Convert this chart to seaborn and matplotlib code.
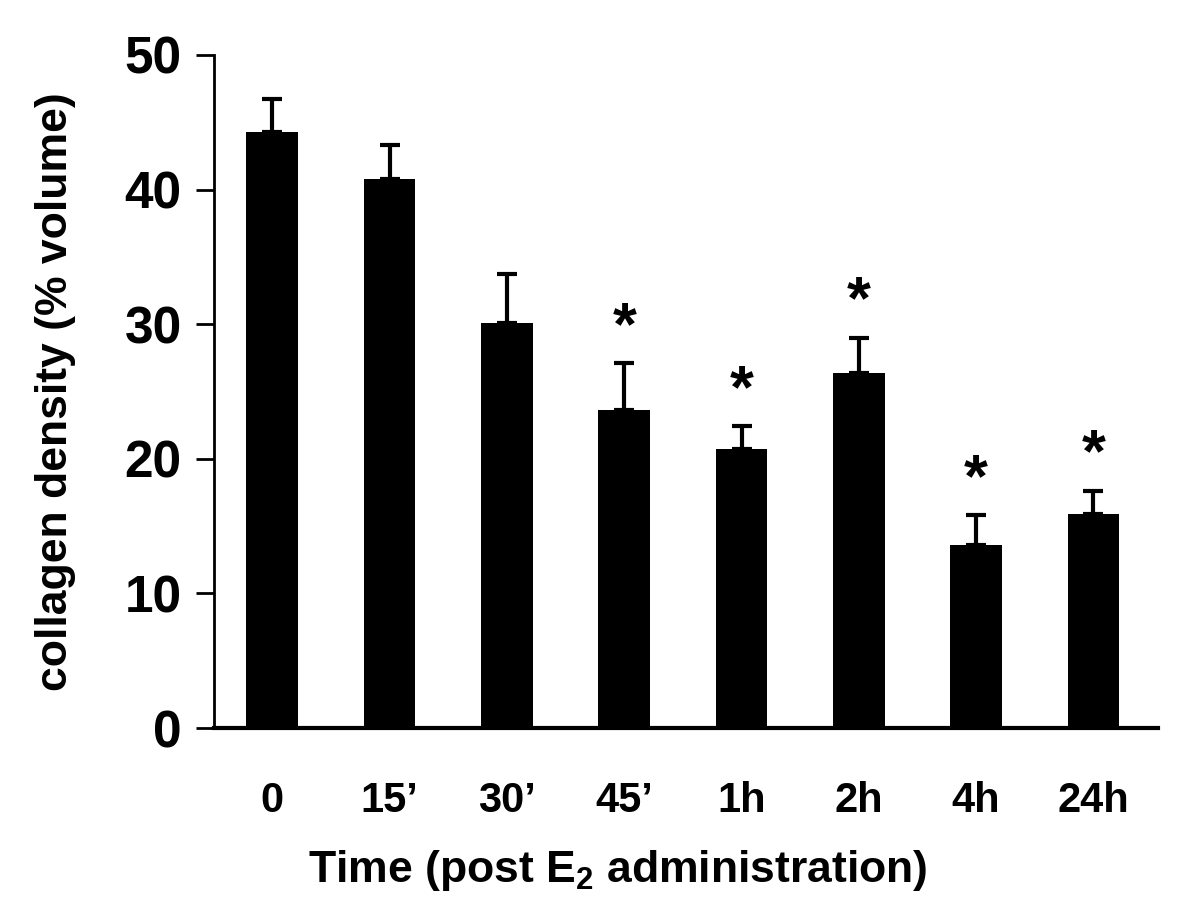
import numpy as np
import pandas as pd
import matplotlib
matplotlib.use('Agg')
import matplotlib.pyplot as plt
import seaborn as sns

# values
times = ['0', '15\u2019', '30\u2019', '45\u2019', '1h', '2h', '4h', '24h']
density = [44.3, 40.8, 30.1, 23.6, 20.7, 26.4, 13.6, 15.9]
sem = [2.4, 2.5, 3.6, 3.5, 1.7, 2.6, 2.2, 1.7]
signif = [False, False, False, True, True, True, True, True]

sns.set_style('ticks')
plt.rcParams['font.family'] = ['Liberation Sans', 'DejaVu Sans']
plt.rcParams['font.weight'] = 'bold'
plt.rcParams['text.color'] = 'black'
plt.rcParams['axes.labelcolor'] = 'black'
plt.rcParams['xtick.color'] = 'black'
plt.rcParams['ytick.color'] = 'black'
plt.rcParams['axes.edgecolor'] = 'black'
plt.rcParams['mathtext.fontset'] = 'custom'
plt.rcParams['mathtext.rm'] = 'Liberation Sans:bold'
plt.rcParams['mathtext.bf'] = 'Liberation Sans:bold'
plt.rcParams['mathtext.default'] = 'bf'

df = pd.DataFrame({'time': times, 'density': density, 'sem': sem})

fig = plt.figure(figsize=(12, 9.1), dpi=100)
ax = fig.add_axes([0.178, 0.2, 0.787, 0.7396])

sns.barplot(data=df, x='time', y='density', color='black', width=0.44,
            saturation=1, linewidth=0, ax=ax)
pos = np.arange(len(times))
ax.errorbar(pos, density, yerr=[np.zeros(len(sem)), sem], fmt='none',
            ecolor='black', elinewidth=3, capsize=7, capthick=3)

# significance stars above the error bars
for x, m, s, flag in zip(pos, density, sem, signif):
    if flag:
        ax.text(x, m + s + 2.6, '*', ha='center', va='center',
                fontsize=44, fontweight='bold')

ax.set_xlim(-0.5, 7.55)
ax.set_ylim(0, 50)
ax.set_yticks([0, 10, 20, 30, 40, 50])
ax.tick_params(axis='y', length=13, width=2, labelsize=37, pad=10)
ax.tick_params(axis='x', length=0, labelsize=30, pad=38)
for lab in ax.get_xticklabels() + ax.get_yticklabels():
    lab.set_fontweight('bold')

ax.set_xlabel('Time (post E$_2$ administration)', fontsize=32,
              fontweight='bold')
ax.xaxis.set_label_coords(0.428, -0.178)
ax.set_ylabel('collagen density (% volume)', fontsize=32,
              fontweight='bold')
ax.yaxis.set_label_coords(-0.146, 0.5)

sns.despine(ax=ax)
ax.spines['left'].set_linewidth(2)
ax.spines['bottom'].set_linewidth(3)

fig.savefig('out.png', dpi=100)
